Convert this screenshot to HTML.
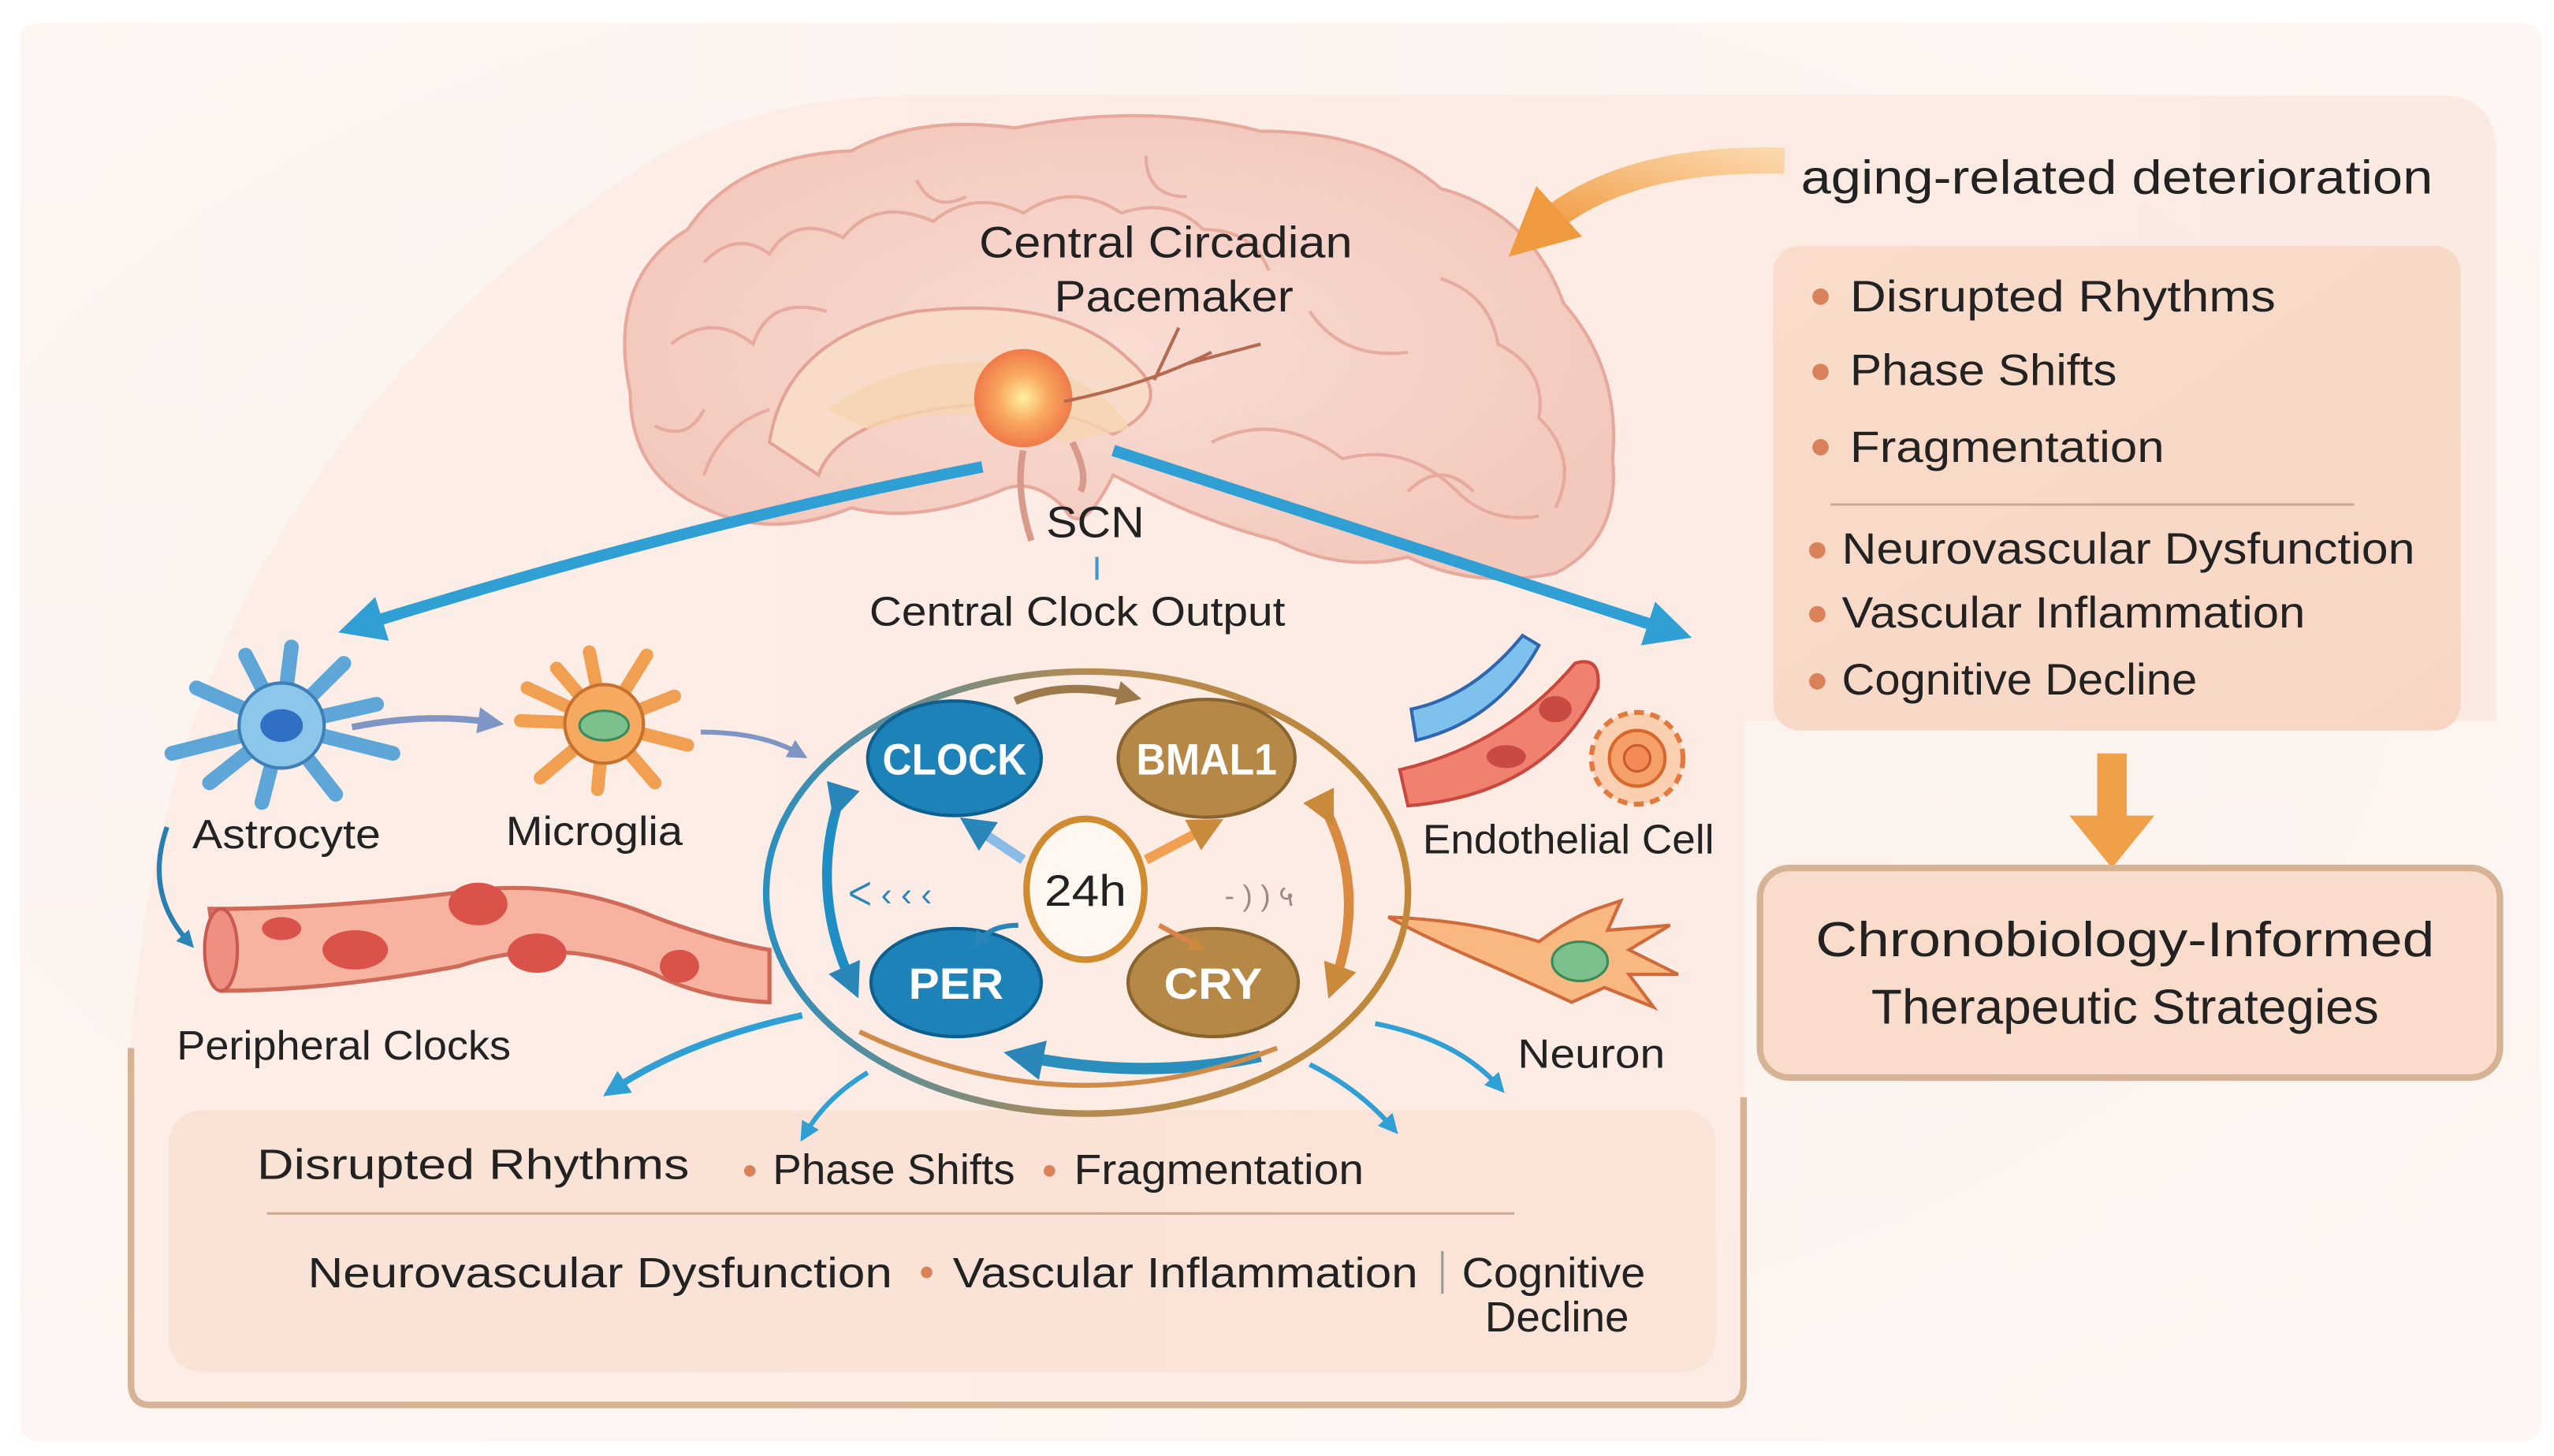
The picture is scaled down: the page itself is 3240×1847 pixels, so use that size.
<!DOCTYPE html>
<html><head><meta charset="utf-8"><style>
html,body{margin:0;padding:0;background:#fff;}
svg{display:block;}
text{font-family:"Liberation Sans",sans-serif;fill:#222;}
</style></head><body>
<svg width="3240" height="1847" viewBox="0 0 1560 889" xmlns="http://www.w3.org/2000/svg">
<defs>
<radialGradient id="bg" cx="0.45" cy="0.45" r="0.7">
<stop offset="0" stop-color="#fcf1ec"/><stop offset="1" stop-color="#fdf6f2"/></radialGradient>
<linearGradient id="pan" x1="0" y1="0" x2="1" y2="0">
<stop offset="0" stop-color="#fcede6"/><stop offset="1" stop-color="#fbe9e0"/></linearGradient>
<linearGradient id="box" x1="0" y1="0" x2="1" y2="1">
<stop offset="0" stop-color="#f9dccb"/><stop offset="1" stop-color="#f8d6c3"/></linearGradient>
<linearGradient id="bot" x1="0" y1="0" x2="1" y2="0">
<stop offset="0" stop-color="#f9e2d6"/><stop offset="1" stop-color="#fae3d7"/></linearGradient>
<radialGradient id="brain" cx="0.5" cy="0.5" r="0.55">
<stop offset="0" stop-color="#f9dcd3"/><stop offset="1" stop-color="#f3c8bd"/></radialGradient>
<linearGradient id="ring" x1="0" y1="0" x2="1" y2="0">
<stop offset="0" stop-color="#2a8fc0"/><stop offset="0.5" stop-color="#b48a52"/><stop offset="1" stop-color="#c08838"/></linearGradient>
<linearGradient id="oarr" x1="1" y1="0" x2="0" y2="1">
<stop offset="0" stop-color="#fbd6a8"/><stop offset="1" stop-color="#f09a40"/></linearGradient>
<radialGradient id="scn" cx="0.5" cy="0.5" r="0.5">
<stop offset="0" stop-color="#fff0a0"/><stop offset="0.5" stop-color="#f9a860"/><stop offset="1" stop-color="#ef7a4a"/></radialGradient>
<marker id="ab" viewBox="0 0 10 10" refX="5" refY="5" markerWidth="4" markerHeight="4" orient="auto"><path d="M0,0 L10,5 L0,10 z" fill="#2f9fd4"/></marker>
<marker id="ab2" viewBox="0 0 10 10" refX="5" refY="5" markerWidth="3.5" markerHeight="3.5" orient="auto"><path d="M0,0 L10,5 L0,10 z" fill="#2a86b8"/></marker>
<marker id="ag" viewBox="0 0 10 10" refX="5" refY="5" markerWidth="4" markerHeight="4" orient="auto"><path d="M0,0 L10,5 L0,10 z" fill="#7f96c4"/></marker>
<marker id="ao" viewBox="0 0 10 10" refX="5" refY="5" markerWidth="3.5" markerHeight="3.5" orient="auto"><path d="M0,0 L10,5 L0,10 z" fill="#c98a3c"/></marker>
<marker id="ao2" viewBox="0 0 10 10" refX="4" refY="5" markerWidth="2.6" markerHeight="2.6" orient="auto"><path d="M0,0 L10,5 L0,10 z" fill="#f09a40"/></marker>
<marker id="at" viewBox="0 0 10 10" refX="5" refY="5" markerWidth="3" markerHeight="3" orient="auto"><path d="M0,0 L10,5 L0,10 z" fill="#9c7a4c"/></marker>
</defs>
<rect width="1560" height="889" fill="#fff"/>
<rect x="12" y="14" width="1540" height="866" rx="10" fill="url(#bg)"/>
<!-- big panel -->
<path d="M560,58 L1490,58 Q1525,58 1525,95 L1525,440 L1065,440 L1065,858 L92,858 Q80,858 80,845 L80,640 Q100,300 380,110 Q450,58 560,58 Z" fill="url(#pan)" opacity="0.9"/>
<path d="M80,640 L80,845 Q80,858 92,858 L1052,858 Q1065,858 1065,845 L1065,670" fill="none" stroke="#d6b394" stroke-width="4"/>
<!-- brain -->
<path d="M385,240 Q370,170 420,140 Q450,95 520,92 Q560,70 620,78 Q700,62 770,80 Q840,80 880,115 Q935,130 955,185 Q990,225 985,280 Q990,330 950,350 Q900,360 860,340 Q820,350 780,330 Q740,320 700,300 L680,290 Q660,330 650,310 Q630,290 610,300 Q560,320 520,310 Q470,330 430,310 Q385,290 385,240 Z" fill="url(#brain)" stroke="#e6a99c" stroke-width="2"/>
<g fill="none" stroke="#e3a396" stroke-width="2" opacity="0.8">
<path d="M430,160 q20,-20 40,-5 q15,-25 45,-10 q20,-25 55,-10 q25,-20 55,-5 q30,-20 60,0 q30,-10 50,10 q30,0 40,25"/>
<path d="M410,210 q25,-20 50,0 q10,-30 45,-20"/>
<path d="M880,170 q30,10 35,40 q30,15 25,45 q25,25 10,55"/>
<path d="M470,250 q-30,10 -40,40"/><path d="M800,190 q20,30 60,25"/>
<path d="M740,270 q40,-20 80,10 q40,-10 70,20 q20,20 50,15"/>
<path d="M400,260 q20,10 30,-10 M560,110 q10,20 30,10 M700,95 q0,25 25,25 M900,300 q-20,-20 -40,0"/>
</g>
<path d="M470,270 Q480,205 560,190 Q650,180 690,220 Q720,245 680,265 Q630,240 570,250 Q510,260 500,290 Z" fill="#f8dcc9" stroke="#e3a396" stroke-width="2"/>
<path d="M505,250 Q560,210 640,225 Q680,240 690,262 L650,270 Q600,240 530,262 Z" fill="#f6d5b0" opacity="0.8"/>
<circle cx="625" cy="243" r="30" fill="url(#scn)"/>
<path d="M650,245 Q700,235 740,215 M705,232 L720,200 M725,222 L770,210" stroke="#b56a50" stroke-width="2" fill="none"/>
<path d="M625,275 Q620,300 630,330 M655,270 Q665,290 660,300" stroke="#d89a8a" stroke-width="4" fill="none"/>
<!-- brain text -->
<text x="712" y="157" font-size="27" text-anchor="middle" textLength="228" lengthAdjust="spacingAndGlyphs">Central Circadian</text>
<text x="717" y="190" font-size="27" text-anchor="middle" textLength="146" lengthAdjust="spacingAndGlyphs">Pacemaker</text>
<text x="669" y="328" font-size="27" text-anchor="middle" textLength="60" lengthAdjust="spacingAndGlyphs">SCN</text>
<line x1="670" y1="340" x2="670" y2="354" stroke="#3a9ccc" stroke-width="2"/>
<text x="658" y="382" font-size="25" text-anchor="middle" textLength="254" lengthAdjust="spacingAndGlyphs">Central Clock Output</text>
<!-- big blue arrows -->
<path d="M600,285 Q420,320 220,382" fill="none" stroke="#2f9fd4" stroke-width="7" marker-end="url(#ab)"/>
<path d="M680,275 Q850,330 1020,385" fill="none" stroke="#2f9fd4" stroke-width="7" marker-end="url(#ab)"/>
<!-- orange arrow -->
<path d="M1090,98 Q990,95 940,140" fill="none" stroke="url(#oarr)" stroke-width="16" marker-end="url(#ao2)"/>
<text x="1293" y="118" font-size="29" text-anchor="middle" textLength="386" lengthAdjust="spacingAndGlyphs">aging-related deterioration</text>
<!-- right box -->
<rect x="1083" y="150" width="420" height="296" rx="16" fill="url(#box)"/>
<g font-size="27">
<circle cx="1112" cy="181" r="5" fill="#d9825a"/><text x="1130" y="190" textLength="260" lengthAdjust="spacingAndGlyphs">Disrupted Rhythms</text>
<circle cx="1112" cy="227" r="5" fill="#d9825a"/><text x="1130" y="235" textLength="163" lengthAdjust="spacingAndGlyphs">Phase Shifts</text>
<circle cx="1112" cy="273" r="5" fill="#d9825a"/><text x="1130" y="282" textLength="192" lengthAdjust="spacingAndGlyphs">Fragmentation</text>
<line x1="1118" y1="308" x2="1438" y2="308" stroke="#c9a898" stroke-width="1.5"/>
<circle cx="1110" cy="336" r="5" fill="#d9825a"/><text x="1125" y="344" textLength="350" lengthAdjust="spacingAndGlyphs">Neurovascular Dysfunction</text>
<circle cx="1110" cy="375" r="5" fill="#d9825a"/><text x="1125" y="383" textLength="283" lengthAdjust="spacingAndGlyphs">Vascular Inflammation</text>
<circle cx="1110" cy="416" r="5" fill="#d9825a"/><text x="1125" y="424" textLength="217" lengthAdjust="spacingAndGlyphs">Cognitive Decline</text>
</g>
<rect x="1281" y="460" width="18" height="40" fill="#f0a048"/>
<path d="M1264,498 L1316,498 L1290,530 Z" fill="#f0a048"/>
<!-- chrono box -->
<rect x="1075" y="530" width="452" height="128" rx="18" fill="#f9dccb" stroke="#d6b394" stroke-width="4"/>
<text x="1298" y="584" font-size="30" text-anchor="middle" textLength="378" lengthAdjust="spacingAndGlyphs">Chronobiology-Informed</text>
<text x="1298" y="625" font-size="30" text-anchor="middle" textLength="310" lengthAdjust="spacingAndGlyphs">Therapeutic Strategies</text>
<!-- bottom box -->
<rect x="103" y="678" width="945" height="160" rx="20" fill="url(#bot)"/>
<g font-size="26">
<text x="157" y="720" textLength="264" lengthAdjust="spacingAndGlyphs">Disrupted Rhythms</text>
<circle cx="458" cy="715" r="3.5" fill="#d9825a"/><text x="472" y="723" textLength="148" lengthAdjust="spacingAndGlyphs">Phase Shifts</text>
<circle cx="641" cy="715" r="3.5" fill="#d9825a"/><text x="656" y="723" textLength="177" lengthAdjust="spacingAndGlyphs">Fragmentation</text>
<line x1="163" y1="741" x2="925" y2="741" stroke="#cfa890" stroke-width="1.5"/>
<text x="188" y="786" textLength="357" lengthAdjust="spacingAndGlyphs">Neurovascular Dysfunction</text>
<circle cx="566" cy="777" r="3.5" fill="#d9825a"/><text x="582" y="786" textLength="284" lengthAdjust="spacingAndGlyphs">Vascular Inflammation</text>
<line x1="881" y1="764" x2="881" y2="790" stroke="#999" stroke-width="1.5"/>
<text x="893" y="786" textLength="112" lengthAdjust="spacingAndGlyphs">Cognitive</text>
<text x="907" y="813" textLength="88" lengthAdjust="spacingAndGlyphs">Decline</text>
</g>
<!-- astrocyte -->
<g stroke="#5fa6d8" stroke-width="9" stroke-linecap="round">
<line x1="172" y1="443" x2="120" y2="420"/><line x1="172" y1="443" x2="150" y2="400"/>
<line x1="172" y1="443" x2="178" y2="395"/><line x1="172" y1="443" x2="210" y2="405"/>
<line x1="172" y1="443" x2="230" y2="430"/><line x1="172" y1="443" x2="240" y2="460"/>
<line x1="172" y1="443" x2="205" y2="485"/><line x1="172" y1="443" x2="160" y2="490"/>
<line x1="172" y1="443" x2="105" y2="460"/><line x1="172" y1="443" x2="128" y2="478"/>
</g>
<circle cx="172" cy="443" r="26" fill="#8cc6ea" stroke="#3f7fb8" stroke-width="2"/>
<ellipse cx="172" cy="443" rx="13" ry="10" fill="#2f6fc4"/>
<!-- microglia -->
<g stroke="#f0a050" stroke-width="8" stroke-linecap="round">
<line x1="369" y1="442" x2="340" y2="408"/><line x1="369" y1="442" x2="360" y2="398"/>
<line x1="369" y1="442" x2="395" y2="400"/><line x1="369" y1="442" x2="412" y2="425"/>
<line x1="369" y1="442" x2="420" y2="455"/><line x1="369" y1="442" x2="400" y2="478"/>
<line x1="369" y1="442" x2="365" y2="482"/><line x1="369" y1="442" x2="330" y2="475"/>
<line x1="369" y1="442" x2="318" y2="440"/><line x1="369" y1="442" x2="322" y2="420"/>
</g>
<circle cx="369" cy="442" r="24" fill="#f5aa60" stroke="#c8702e" stroke-width="2"/>
<ellipse cx="369" cy="443" rx="15" ry="9" fill="#7cc08e" stroke="#3a8a5a" stroke-width="1.5"/>
<path d="M215,444 Q260,435 300,441" fill="none" stroke="#7f96c4" stroke-width="4" marker-end="url(#ag)"/>
<path d="M428,447 Q465,447 488,460" fill="none" stroke="#7f96c4" stroke-width="3" marker-end="url(#ag)"/>
<path d="M102,505 Q88,545 115,575" fill="none" stroke="#2a7eb0" stroke-width="3" marker-end="url(#ab2)"/>
<text x="175" y="518" font-size="25" text-anchor="middle" textLength="115" lengthAdjust="spacingAndGlyphs">Astrocyte</text>
<text x="363" y="516" font-size="25" text-anchor="middle" textLength="108" lengthAdjust="spacingAndGlyphs">Microglia</text>
<!-- vessel -->
<path d="M128,555 Q200,555 280,545 Q340,535 400,560 Q440,575 470,580 L470,612 Q430,610 400,595 Q340,570 280,590 Q200,605 135,605 Z" fill="#f7b3a0" stroke="#d06a58" stroke-width="2.5"/>
<ellipse cx="135" cy="580" rx="10" ry="25" fill="#ef8f80" stroke="#c85a50" stroke-width="2"/>
<g fill="#d9534a"><ellipse cx="217" cy="580" rx="20" ry="12"/><ellipse cx="292" cy="552" rx="18" ry="13"/><ellipse cx="328" cy="582" rx="18" ry="12"/><ellipse cx="415" cy="590" rx="12" ry="10"/><ellipse cx="172" cy="567" rx="12" ry="7"/></g>
<text x="210" y="647" font-size="25" text-anchor="middle" textLength="204" lengthAdjust="spacingAndGlyphs">Peripheral Clocks</text>
<!-- endothelial -->
<path d="M862,433 Q900,425 930,388 L940,394 Q915,440 865,452 Z" fill="#7ec1ec" stroke="#2f66b0" stroke-width="2"/>
<path d="M855,470 Q920,455 962,405 Q978,400 976,420 Q945,485 860,492 Z" fill="#f08070" stroke="#c8483e" stroke-width="2"/>
<ellipse cx="920" cy="462" rx="12" ry="7" fill="#c84a40"/><ellipse cx="950" cy="433" rx="10" ry="8" fill="#c84a40"/>
<circle cx="1000" cy="463" r="28" fill="#fbd0b0" stroke="#e27a40" stroke-width="3" stroke-dasharray="6 4"/>
<circle cx="1000" cy="463" r="17" fill="#f5a066" stroke="#d9682e" stroke-width="2"/>
<circle cx="1000" cy="463" r="8" fill="#f38a56" stroke="#c85a2e" stroke-width="1.5"/>
<text x="958" y="521" font-size="25" text-anchor="middle" textLength="178" lengthAdjust="spacingAndGlyphs">Endothelial Cell</text>
<!-- neuron -->
<path d="M848,560 Q900,562 940,575 Q960,560 975,555 L990,550 L982,568 L1020,565 L995,580 L1025,595 L995,595 L1010,615 L980,603 L960,612 Q930,598 900,585 Q870,572 848,560 Z" fill="#f9b880" stroke="#d06a3a" stroke-width="2"/>
<ellipse cx="965" cy="587" rx="17" ry="12" fill="#7cc08e" stroke="#3a8a5a" stroke-width="1.5"/>
<text x="972" y="652" font-size="25" text-anchor="middle" textLength="90" lengthAdjust="spacingAndGlyphs">Neuron</text>
<!-- ring -->
<ellipse cx="664" cy="545" rx="196" ry="135" fill="none" stroke="url(#ring)" stroke-width="4"/>
<path d="M512,490 Q495,545 520,600" fill="none" stroke="#1f8ec4" stroke-width="6" marker-end="url(#ab2)" marker-start="url(#ab2)"/>
<path d="M810,495 Q835,545 815,600" fill="none" stroke="#d98a3e" stroke-width="6" marker-end="url(#ao)" marker-start="url(#ao)"/>
<path d="M620,428 Q650,415 690,425" fill="none" stroke="#9c7a4c" stroke-width="5" marker-end="url(#at)"/>
<path d="M770,645 Q700,660 625,645" fill="none" stroke="#2a8fbc" stroke-width="7" marker-end="url(#ab2)"/>
<path d="M525,630 Q650,690 780,640" fill="none" stroke="#d08a4a" stroke-width="3"/>
<!-- nodes -->
<ellipse cx="583" cy="463" rx="53" ry="35" fill="#1c82b8" stroke="#0e5f8e" stroke-width="2"/>
<text x="583" y="473" font-size="27" font-weight="bold" text-anchor="middle" style="fill:#fff" textLength="88" lengthAdjust="spacingAndGlyphs">CLOCK</text>
<ellipse cx="737" cy="463" rx="54" ry="36" fill="#b58845" stroke="#8a6430" stroke-width="2"/>
<text x="737" y="473" font-size="27" font-weight="bold" text-anchor="middle" style="fill:#fff" textLength="86" lengthAdjust="spacingAndGlyphs">BMAL1</text>
<ellipse cx="584" cy="600" rx="52" ry="33" fill="#1c82b8" stroke="#0e5f8e" stroke-width="2"/>
<text x="584" y="610" font-size="27" font-weight="bold" text-anchor="middle" style="fill:#fff" textLength="58" lengthAdjust="spacingAndGlyphs">PER</text>
<ellipse cx="741" cy="600" rx="52" ry="33" fill="#b58845" stroke="#8a6430" stroke-width="2"/>
<text x="741" y="610" font-size="27" font-weight="bold" text-anchor="middle" style="fill:#fff" textLength="60" lengthAdjust="spacingAndGlyphs">CRY</text>
<ellipse cx="663" cy="543" rx="36" ry="43" fill="#fff8f0" stroke="#d08a30" stroke-width="4"/>
<text x="663" y="553" font-size="27" text-anchor="middle" textLength="50" lengthAdjust="spacingAndGlyphs">24h</text>
<path d="M625,525 L595,505" stroke="#8bbbe6" stroke-width="6" marker-end="url(#ab2)"/>
<path d="M700,525 L738,505" stroke="#f0a050" stroke-width="6" marker-end="url(#ao)"/>
<path d="M622,565 Q605,565 598,575" fill="none" stroke="#2a86b8" stroke-width="3" marker-end="url(#ab2)"/>
<path d="M708,565 L732,578" stroke="#d9824a" stroke-width="3" marker-end="url(#ao)"/>
<text x="518" y="553" font-size="20" style="fill:#2a86b8">ᐸ ‹ ‹ ‹</text>
<text x="748" y="553" font-size="18" style="fill:#a08888">- ) ) ५</text>
<!-- output arrows -->
<path d="M490,620 Q420,635 375,665" fill="none" stroke="#2f9fd4" stroke-width="4" marker-end="url(#ab)"/>
<path d="M530,655 Q505,670 492,692" fill="none" stroke="#2f9fd4" stroke-width="3" marker-end="url(#ab)"/>
<path d="M800,650 Q830,665 850,688" fill="none" stroke="#2f9fd4" stroke-width="3" marker-end="url(#ab)"/>
<path d="M840,625 Q890,635 915,663" fill="none" stroke="#2f9fd4" stroke-width="3" marker-end="url(#ab)"/>
</svg>
</body></html>
